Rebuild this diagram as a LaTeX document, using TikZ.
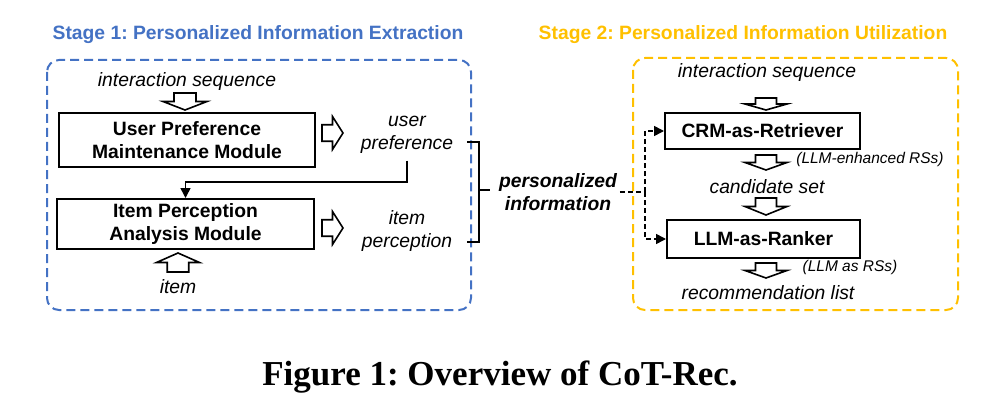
\documentclass[tikz,border=0pt]{standalone}
\usepackage{fontspec}
\setmainfont{Liberation Sans}
\newfontfamily\capfont{Liberation Serif}
\usetikzlibrary{arrows.meta}
\frenchspacing

\definecolor{stageblue}{HTML}{4472C4}
\definecolor{stageorange}{HTML}{FFC000}
\newcommand{\bigtxt}{\fontsize{19.3}{23.5}\selectfont}
\newcommand{\smalltxt}{\fontsize{15.5}{18}\selectfont}

\tikzset{
  module/.style={draw, line width=2pt, font=\bigtxt\bfseries, align=center, inner sep=0pt},
  txt/.style={font=\bigtxt\itshape, align=center, inner sep=2pt},
  frame/.style={dash pattern=on 9pt off 5pt, line width=2pt, rounded corners=12pt},
  tip/.style={-{Triangle[length=10pt,width=10pt]}},
  % 空心箭头: 长度/箭头宽度
  pics/hollow/.style args={#1/#2}{code={
    \draw[line width=1.6pt, fill=white] (-#2/4,0) -- (#2/4,0) -- (#2/4,#1/2) -- (#2/2,#1/2)
      -- (0,#1) -- (-#2/2,#1/2) -- (-#2/4,#1/2) -- cycle;
  }}
}

\begin{document}
\begin{tikzpicture}[x=1pt, y=-1pt, line width=1.6pt]
\useasboundingbox (0,0) rectangle (985,417);

% 阶段一
\node[font=\bigtxt\bfseries, text=stageblue] (title1) at (258,35) {Stage 1: Personalized Information Extraction};
\draw[frame, stageblue] (47,60) rectangle (471,310);

\node[txt] (seq1) at (187,82) {interaction sequence};
\pic at (185,93) {hollow=17/44};
\node[module, minimum width=256pt, minimum height=54pt] (upm) at (187,140) {User Preference\\Maintenance Module};
\pic[rotate=90] at (322,133) {hollow=21/33};
\node[txt] (upref) at (407,135) {user\\preference};

\node[module, minimum width=257pt, minimum height=50pt] (ipa) at (185.5,224) {Item Perception\\Analysis Module};
\pic[rotate=90] at (322,228) {hollow=21/33};
\node[txt] (iper) at (407,231) {item\\perception};
\pic[rotate=180] at (178,272) {hollow=19/43};
\node[txt] (item) at (178,287) {item};

\coordinate (bend) at (407,182);
\draw[tip, shorten <=4pt] (upref.south) -- (bend) -| (ipa.north);

% 括号
\draw[line width=2pt] (467,142) -- (479,142) -- (479,242) -- (467,242);
\draw[line width=2pt] (479,190) -- (490,190);

% 中间
\node[txt, font=\bigtxt\bfseries\itshape] (pinfo) at (558,192) {personalized\\information};
\coordinate (split) at (645,192);

% 阶段二
\node[font=\bigtxt\bfseries, text=stageorange] (title2) at (743,35) {Stage 2: Personalized Information Utilization};
\draw[frame, stageorange] (633,58) rectangle (958,310);

\node[txt] (seq2) at (767,73) {interaction sequence};
\pic at (766,98) {hollow=12/42};
\node[module, minimum width=195pt, minimum height=36pt] (crm) at (762.5,131) {CRM-as-Retriever};
\pic at (766,155) {hollow=15/42};
\node[font=\smalltxt\itshape] (enh) at (870,159) {(LLM-enhanced RSs)};
\node[txt] (cand) at (767,187) {candidate set};
\pic at (766,198) {hollow=17/42};
\node[module, minimum width=193pt, minimum height=38pt] (ranker) at (763.5,239) {LLM-as-Ranker};
\pic at (766,263) {hollow=15/42};
\node[font=\smalltxt\itshape] (llmrs) at (850,267) {(LLM as RSs)};
\node[txt] (rec) at (768,293) {recommendation list};

% 虚线连接
\draw[dash pattern=on 5pt off 3pt] (pinfo.east) -- (split);
\draw[tip, dash pattern=on 5pt off 3pt] (split) |- (crm.west);
\draw[tip, dash pattern=on 5pt off 3pt] (split) |- (ranker.west);

% 图题
\node[font=\capfont\bfseries\fontsize{35}{40}\selectfont] (cap) at (500,377) {Figure 1: Overview of CoT-Rec.};
\end{tikzpicture}
\end{document}
